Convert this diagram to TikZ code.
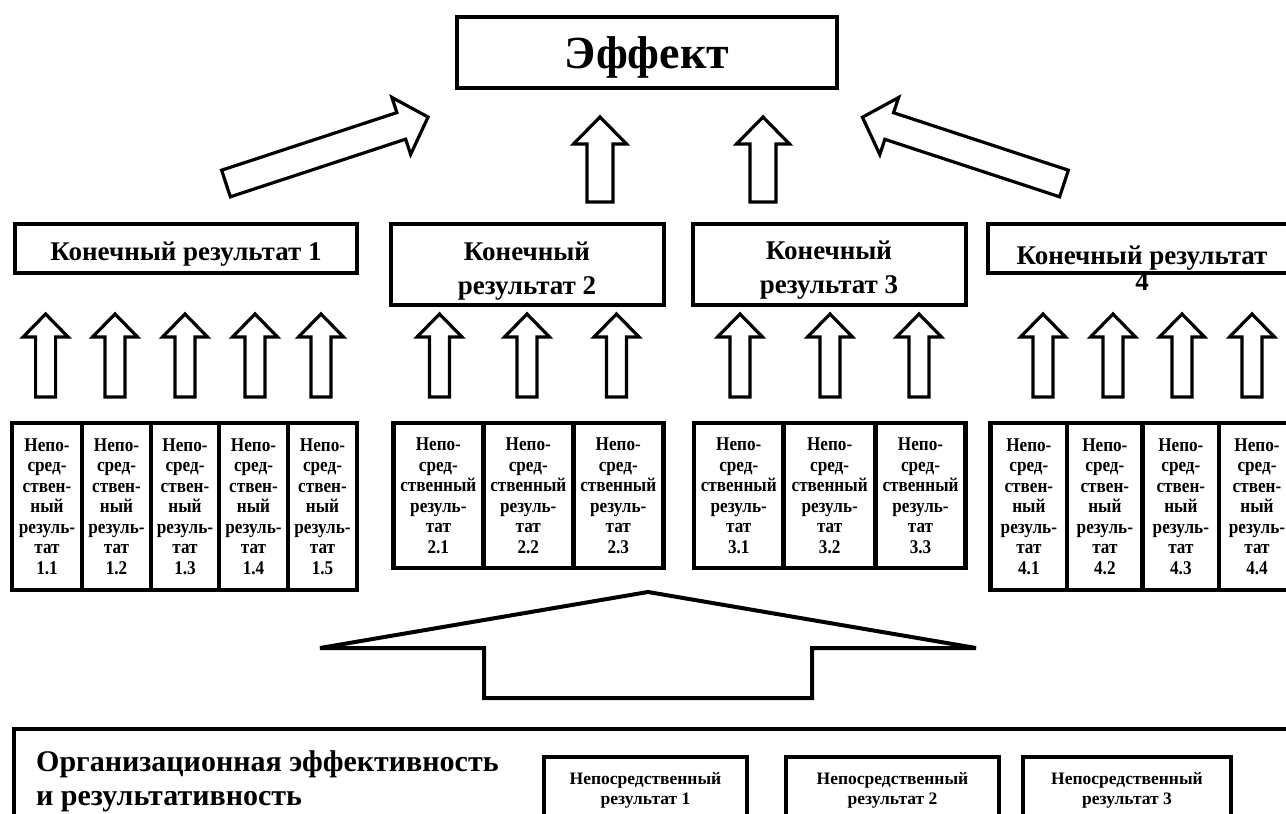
\documentclass[tikz,border=0pt]{standalone}
\usepackage{fontspec}
\setmainfont{Liberation Serif}
\newfontfamily\narrowserif[FakeStretch=0.88]{Liberation Serif}
\newcommand\blkarr[4]{\draw[arrowline] (0,-#3) -- (#2,-#3) -- (#2,-#4) -- (#1,0) -- (#2,#4) -- (#2,#3) -- (0,#3) -- cycle;}
\newcommand\cellA[1]{Непо-\\сред-\\ствен-\\ный\\резуль-\\тат\\#1}
\newcommand\cellB[1]{Непо-\\сред-\\ственный\\резуль-\\тат\\#1}
\begin{document}
\begin{tikzpicture}[x=1pt,y=-1pt,
  arrowline/.style={draw=black, line width=3.2pt, fill=white, line join=miter},
  bigbox/.style={draw, line width=4.5pt, inner sep=0pt, align=center},
  endbox/.style={draw, line width=4pt, inner sep=0pt},
  endtext/.style={inner sep=0pt, align=center, font=\bfseries\fontsize{27}{34}\selectfont},
  cell/.style={draw, line width=4.5pt, inner sep=0pt, align=center, font=\narrowserif\bfseries\fontsize{19.5}{20.5}\selectfont},
  smallbox/.style={draw, line width=4.5pt, inner sep=0pt, align=center, font=\bfseries\fontsize{17.5}{20}\selectfont}]
\clip (0,0) rectangle (1286,814);
\fill[white] (0,0) rectangle (1286,814);

% top effect box
\node[bigbox, minimum width=380pt, minimum height=71pt] (eff) at (647,52.5) {};
\node[inner sep=0pt, font=\bfseries\fontsize{46}{50}\selectfont] (efft) at (647,57) {Эффект};

% arrows to effect
\begin{scope}[shift={(226,183.5)}, rotate=18.2] \blkarr{212.7}{184.5}{14}{30} \end{scope}
\begin{scope}[shift={(1064,183.5)}, rotate=161.8] \blkarr{212.2}{184}{14}{30} \end{scope}
\foreach \cx in {600,763}{
  \begin{scope}[shift={(\cx,202)}, rotate=90] \blkarr{85}{58}{13}{26.5} \end{scope}
}

% final result boxes
\node[endbox, minimum width=342.5pt, minimum height=49pt] (k1) at (185.75,248.5) {};
\node[endtext] (k1t) at (186,254) {Конечный результат 1};
\node[endbox, minimum width=272.5pt, minimum height=81pt] (k2) at (527.25,264.5) {};
\node[endtext] (k2t) at (527,271) {Конечный\\результат 2};
\node[endbox, minimum width=272.5pt, minimum height=81pt] (k3) at (829.25,264.5) {};
\node[endtext] (k3t) at (829,270) {Конечный\\результат 3};
\node[endbox, minimum width=309pt, minimum height=49pt] (k4) at (1142.5,248.5) {};
\node[endtext] (k4t) at (1142,268) {Конечный результат\\[-8pt]4};

% small arrows
\foreach \cx in {45.6,115,185,255,321,439.5,527,616.5,740,830,919,1043,1113,1182,1252}{
  \begin{scope}[shift={(\cx,397)}, rotate=90] \blkarr{83}{60}{10}{22.5} \end{scope}
}

% immediate results
\node[cell, minimum width=70pt, minimum height=167pt] (r11) at (47,506.5) {\cellA{1.1}};
\node[cell, minimum width=69pt, minimum height=167pt] (r12) at (116.5,506.5) {\cellA{1.2}};
\node[cell, minimum width=68pt, minimum height=167pt] (r13) at (185,506.5) {\cellA{1.3}};
\node[cell, minimum width=69pt, minimum height=167pt] (r14) at (253.5,506.5) {\cellA{1.4}};
\node[cell, minimum width=69pt, minimum height=167pt] (r15) at (322.5,506.5) {\cellA{1.5}};

\node[cell, minimum width=90pt, minimum height=145pt] (r21) at (438.35,495.5) {\cellB{2.1}};
\node[cell, minimum width=90pt, minimum height=145pt] (r22) at (528.3,495.5) {\cellB{2.2}};
\node[cell, minimum width=90pt, minimum height=145pt] (r23) at (618.25,495.5) {\cellB{2.3}};

\node[cell, minimum width=90pt, minimum height=145pt] (r31) at (738.75,495.5) {\cellB{3.1}};
\node[cell, minimum width=92pt, minimum height=145pt] (r32) at (829.65,495.5) {\cellB{3.2}};
\node[cell, minimum width=90pt, minimum height=145pt] (r33) at (920.55,495.5) {\cellB{3.3}};

\node[cell, minimum width=76.3pt, minimum height=167pt] (r41) at (1028.85,506.5) {\cellA{4.1}};
\node[cell, minimum width=75.7pt, minimum height=167pt] (r42) at (1104.85,506.5) {\cellA{4.2}};
\node[cell, minimum width=76.3pt, minimum height=167pt] (r43) at (1180.85,506.5) {\cellA{4.3}};
\node[cell, minimum width=76pt, minimum height=167pt] (r44) at (1257,506.5) {\cellA{4.4}};

% big arrow
\begin{scope}[shift={(648,698)}, rotate=90, arrowline/.append style={line width=4pt}] \blkarr{106}{50}{164}{328} \end{scope}

% bottom
\node[bigbox, minimum width=1286pt, minimum height=101pt] (org) at (656.9,779.5) {};
\node[anchor=west, align=left, inner sep=0pt, font=\bfseries\fontsize{30}{34}\selectfont] (orgt) at (36,781) {Организационная эффективность\\и результативность};
\node[smallbox, minimum width=203pt, minimum height=66pt] (n1) at (645.5,790) {Непосредственный\\результат 1};
\node[smallbox, minimum width=213pt, minimum height=66pt] (n2) at (892.5,790) {Непосредственный\\результат 2};
\node[smallbox, minimum width=208pt, minimum height=66pt] (n3) at (1127,790) {Непосредственный\\результат 3};
\end{tikzpicture}
\end{document}
